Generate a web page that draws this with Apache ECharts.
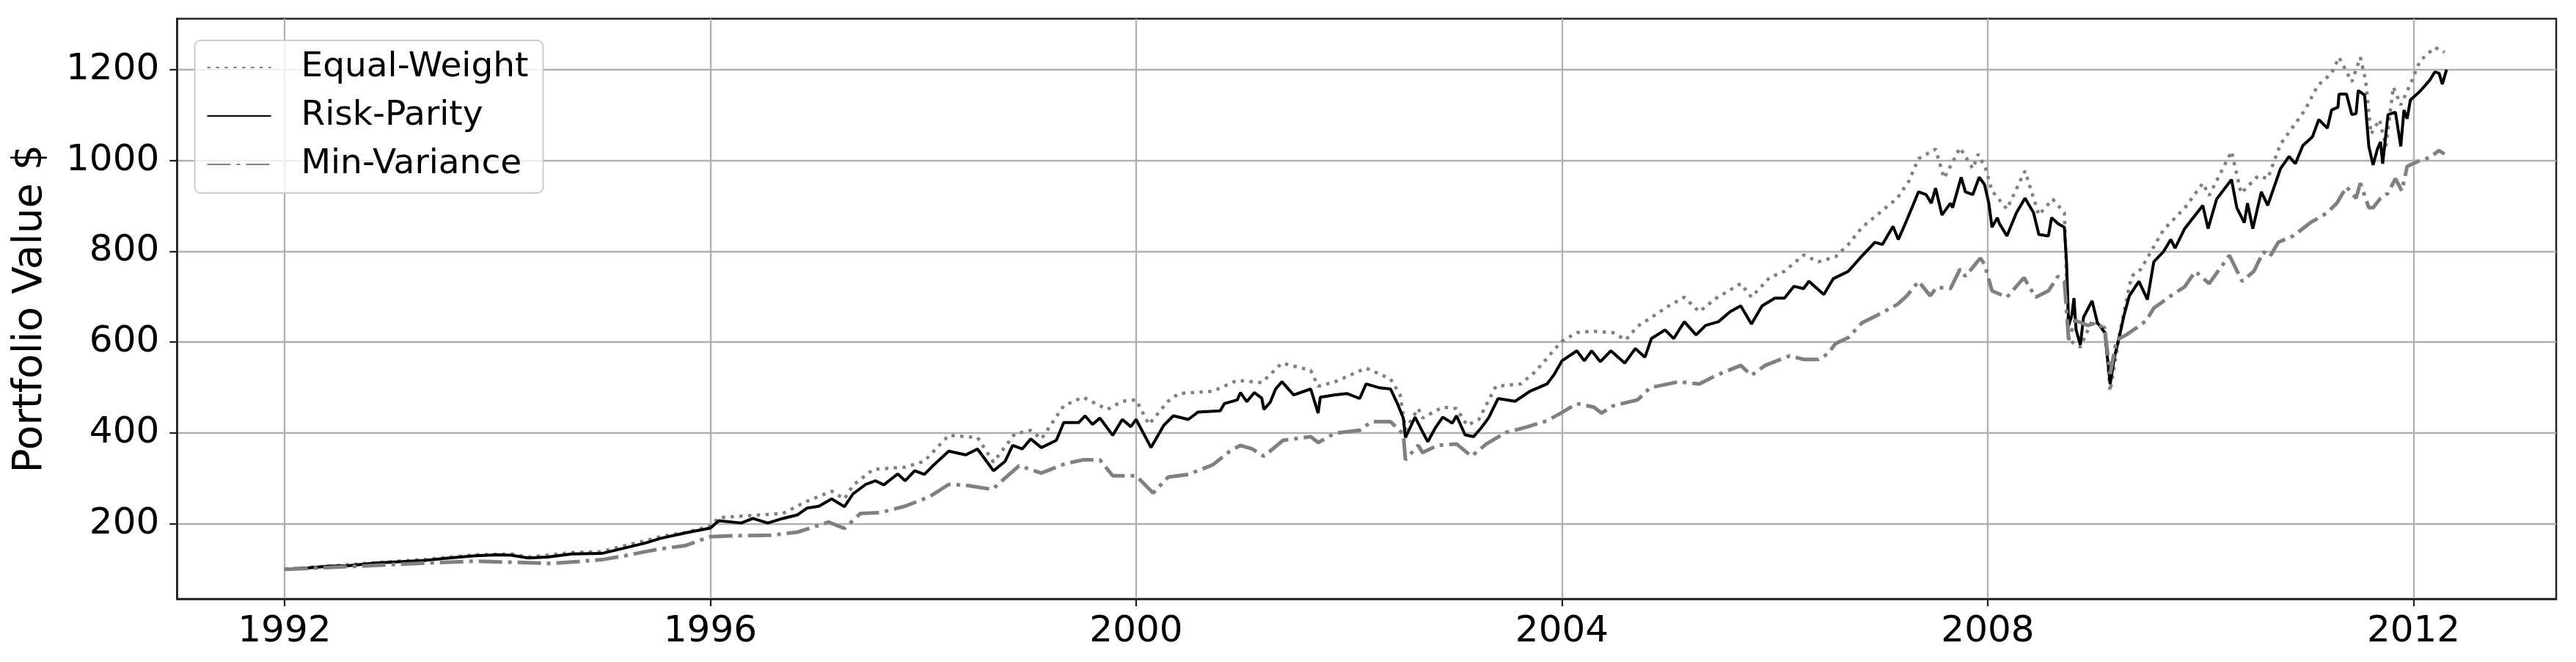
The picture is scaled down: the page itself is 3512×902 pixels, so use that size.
<!DOCTYPE html>
<html>
<head>
<meta charset="utf-8">
<script src="https://cdn.jsdelivr.net/npm/echarts@6/dist/echarts.min.js"></script>
<style>
  html, body { margin: 0; padding: 0; background: #ffffff; }
  #chart { width: 3512px; height: 902px; }
</style>
</head>
<body>
<div id="chart"></div>
<script>
// ---- data ----
const seriesNames = ['Equal-Weight', 'Risk-Parity', 'Min-Variance'];
const xTickValues = [1992, 1996, 2000, 2004, 2008, 2012];
const yTickValues = [200, 400, 600, 800, 1000, 1200];

const ewYears = [1992.00,1992.41,1992.87,1993.33,1993.79,1994.13,1994.29,1994.70,1994.98,1995.16,1995.39,1995.53,1995.76,1996.00,1996.08,1996.68,1996.91,1997.14,1997.26,1997.34,1997.53,1997.83,1998.01,1998.24,1998.51,1998.66,1998.86,1999.01,1999.11,1999.32,1999.50,1999.73,1999.87,2000.00,2000.12,2000.30,2000.40,2000.72,2000.95,2001.18,2001.37,2001.64,2001.71,2001.87,2002.16,2002.39,2002.48,2002.53,2002.65,2002.69,2002.88,2003.01,2003.11,2003.22,2003.38,2003.61,2003.75,2003.93,2004.00,2004.14,2004.28,2004.48,2004.60,2004.71,2004.83,2004.99,2005.15,2005.29,2005.45,2005.68,2005.78,2005.95,2006.09,2006.27,2006.41,2006.57,2006.69,2006.82,2006.96,2007.15,2007.26,2007.35,2007.51,2007.59,2007.74,2007.86,2007.91,2007.98,2008.04,2008.18,2008.35,2008.48,2008.61,2008.72,2008.76,2008.87,2008.98,2009.10,2009.15,2009.24,2009.35,2009.44,2009.53,2009.65,2009.76,2009.85,2010.02,2010.08,2010.29,2010.38,2010.54,2010.63,2010.75,2010.84,2010.98,2011.10,2011.23,2011.30,2011.42,2011.50,2011.55,2011.60,2011.68,2011.74,2011.81,2011.88,2011.97,2012.06,2012.20,2012.29];
const ewValues = [100,107,115,122,132,134,127,137,139,150,163,172,181,195,214,223,250,272,255,285,320,325,338,395,390,336,398,406,387,460,479,452,470,473,419,470,487,492,516,511,554,538,503,513,543,519,484,408,454,433,457,454,417,430,503,508,535,584,602,621,624,621,605,635,653,678,699,667,697,729,699,742,756,792,777,788,815,853,880,917,955,1004,1025,961,1028,982,1014,982,933,893,977,880,915,885,605,589,648,632,492,621,745,761,798,847,874,895,950,923,1020,928,966,960,1036,1065,1111,1165,1192,1227,1173,1227,1176,1058,1090,1031,1162,1122,1168,1219,1249,1238];

const rpYears = [1992.00,1992.20,1992.41,1992.60,1992.87,1993.10,1993.33,1993.55,1993.79,1994.00,1994.13,1994.29,1994.47,1994.70,1994.98,1995.16,1995.39,1995.53,1995.76,1996.00,1996.08,1996.29,1996.40,1996.54,1996.68,1996.82,1996.91,1997.02,1997.14,1997.26,1997.34,1997.46,1997.55,1997.63,1997.76,1997.83,1997.92,1998.01,1998.10,1998.24,1998.40,1998.51,1998.66,1998.77,1998.84,1998.93,1999.01,1999.11,1999.25,1999.32,1999.46,1999.52,1999.59,1999.66,1999.78,1999.87,1999.95,2000.00,2000.14,2000.26,2000.35,2000.49,2000.58,2000.79,2000.83,2000.95,2000.98,2001.04,2001.11,2001.18,2001.20,2001.26,2001.31,2001.37,2001.48,2001.64,2001.71,2001.73,2001.87,2001.98,2002.10,2002.16,2002.28,2002.39,2002.46,2002.51,2002.53,2002.62,2002.69,2002.74,2002.81,2002.88,2002.97,2003.01,2003.09,2003.17,2003.24,2003.31,2003.40,2003.56,2003.70,2003.86,2003.93,2004.00,2004.14,2004.21,2004.28,2004.36,2004.46,2004.59,2004.69,2004.78,2004.84,2004.97,2005.05,2005.15,2005.26,2005.35,2005.47,2005.58,2005.68,2005.78,2005.88,2006.00,2006.09,2006.18,2006.27,2006.32,2006.46,2006.55,2006.69,2006.80,2006.94,2007.01,2007.11,2007.16,2007.24,2007.35,2007.42,2007.47,2007.51,2007.57,2007.65,2007.67,2007.75,2007.79,2007.86,2007.92,2007.97,2008.01,2008.04,2008.09,2008.11,2008.18,2008.27,2008.35,2008.43,2008.48,2008.57,2008.60,2008.66,2008.72,2008.74,2008.76,2008.79,2008.81,2008.83,2008.87,2008.90,2008.98,2009.03,2009.10,2009.15,2009.19,2009.24,2009.28,2009.33,2009.42,2009.50,2009.56,2009.65,2009.72,2009.76,2009.85,2009.95,2010.02,2010.07,2010.15,2010.29,2010.34,2010.41,2010.44,2010.49,2010.57,2010.63,2010.75,2010.83,2010.89,2010.96,2011.05,2011.11,2011.19,2011.23,2011.29,2011.30,2011.37,2011.42,2011.46,2011.48,2011.54,2011.58,2011.62,2011.66,2011.69,2011.71,2011.76,2011.83,2011.88,2011.91,2011.94,2011.97,2012.06,2012.15,2012.20,2012.24,2012.27,2012.31];
const rpValues = [100,103,107,108,114,117,120,125,130,132,131,125,127,134,135,145,158,168,180,191,207,202,212,202,212,220,235,239,255,238,266,287,295,286,310,295,317,309,330,360,352,365,317,338,373,365,387,368,384,423,423,438,419,433,395,430,414,430,368,417,438,430,446,449,465,473,489,469,489,477,452,468,497,513,484,497,444,479,484,487,476,508,500,497,462,433,390,435,403,381,411,435,422,438,396,392,411,433,476,470,492,508,530,559,581,559,581,557,581,554,586,567,608,627,608,645,616,637,645,667,680,640,680,697,697,723,718,734,705,740,756,785,820,815,855,826,869,931,925,906,939,880,906,896,963,931,925,963,947,906,853,874,861,834,885,917,885,837,834,874,861,853,777,637,659,697,627,594,655,691,643,621,508,567,616,659,702,734,694,777,799,826,807,850,880,901,850,915,958,896,863,906,850,931,901,982,1009,993,1033,1052,1090,1071,1111,1117,1146,1146,1101,1103,1154,1144,1031,990,1025,1041,993,1101,1106,1031,1111,1092,1133,1152,1176,1195,1192,1168,1200];

const mvYears = [1992.00,1992.41,1992.87,1993.33,1993.79,1994.24,1994.50,1994.75,1995.00,1995.20,1995.39,1995.53,1995.76,1996.00,1996.22,1996.56,1996.82,1997.11,1997.26,1997.41,1997.60,1997.83,1998.06,1998.24,1998.40,1998.65,1998.74,1998.90,1999.11,1999.34,1999.50,1999.66,1999.78,2000.00,2000.16,2000.30,2000.49,2000.72,2000.88,2000.98,2001.09,2001.20,2001.38,2001.64,2001.71,2001.87,2002.10,2002.21,2002.39,2002.51,2002.53,2002.65,2002.69,2002.83,2003.01,2003.15,2003.29,2003.47,2003.68,2003.86,2003.99,2004.14,2004.30,2004.37,2004.48,2004.71,2004.83,2005.10,2005.29,2005.45,2005.68,2005.78,2005.91,2006.14,2006.27,2006.41,2006.50,2006.57,2006.69,2006.82,2006.96,2007.15,2007.24,2007.35,2007.46,2007.52,2007.65,2007.74,2007.79,2007.93,2007.97,2008.04,2008.18,2008.34,2008.45,2008.57,2008.66,2008.72,2008.76,2008.82,2008.94,2009.03,2009.10,2009.15,2009.21,2009.30,2009.40,2009.49,2009.56,2009.72,2009.85,2009.95,2010.08,2010.27,2010.39,2010.50,2010.59,2010.65,2010.73,2010.87,2011.03,2011.19,2011.28,2011.37,2011.46,2011.50,2011.58,2011.62,2011.69,2011.76,2011.83,2011.89,2011.94,2012.04,2012.15,2012.24,2012.29];
const mvValues = [100,104,109,114,118,115,113,117,122,130,139,145,152,172,174,175,182,204,190,223,225,239,260,287,285,276,295,328,312,333,341,341,306,306,268,303,309,330,360,373,365,349,384,392,379,400,406,425,425,398,341,373,357,373,376,349,376,401,414,427,444,465,457,444,460,473,500,513,508,527,549,527,549,570,562,562,575,597,610,643,659,683,702,734,702,721,718,761,745,785,772,713,699,742,699,713,745,734,605,648,637,643,627,530,605,616,632,648,675,702,722,756,729,791,734,756,799,788,820,834,863,885,906,942,917,950,896,896,917,928,960,933,987,998,1006,1022,1014];

const zip = (xs, ys) => xs.map((x, i) => [x, ys[i]]);

const FONT = "'DejaVu Sans', 'Liberation Sans', sans-serif";
const chart = echarts.init(document.getElementById('chart'), null, { renderer: 'canvas' });

chart.setOption({
  animation: false,
  backgroundColor: '#ffffff',
  textStyle: { fontFamily: FONT, color: '#000' },
  grid: {
    left: 241.3, right: 27, top: 25.5, bottom: 86,
    containLabel: false,
    outerBoundsMode: 'none',
    show: true,
    borderColor: '#222222',
    borderWidth: 2.5,
    backgroundColor: 'transparent'
  },
  legend: {
    orient: 'vertical',
    left: 265.5, top: 55,
    padding: [12, 20, 14, 16],
    itemWidth: 87, itemHeight: 20, itemGap: 16,
    backgroundColor: 'rgba(255,255,255,0.8)',
    borderColor: '#cccccc', borderWidth: 2, borderRadius: 8,
    itemStyle: { opacity: 0 },
    textStyle: { fontFamily: FONT, fontSize: 47, lineHeight: 50, color: '#000', padding: [0, 0, 0, 36] },
    data: seriesNames
  },
  xAxis: {
    type: 'value',
    min: 1990.99, max: 2013.34,
    axisLine: { show: true, onZero: false, lineStyle: { color: '#222222', width: 2.5 } },
    axisTick: { show: true, inside: false, length: 10, customValues: xTickValues, lineStyle: { color: '#222222', width: 2.3 } },
    axisLabel: { show: true, margin: 20, fontSize: 50, fontFamily: FONT, color: '#000', customValues: xTickValues, formatter: v => String(v) },
    splitLine: { show: true, lineStyle: { color: '#b0b0b0', width: 2.3 } }
  },
  yAxis: {
    type: 'value',
    min: 35, max: 1312,
    name: 'Portfolio Value $',
    nameLocation: 'middle',
    nameRotate: 90,
    nameGap: 172,
    nameTextStyle: { fontFamily: FONT, fontSize: 55, color: '#000' },
    axisLine: { show: true, onZero: false, lineStyle: { color: '#222222', width: 2.5 } },
    axisTick: { show: true, inside: false, length: 10, customValues: yTickValues, lineStyle: { color: '#222222', width: 2.3 } },
    axisLabel: { show: true, margin: 24, fontSize: 50, fontFamily: FONT, color: '#000', customValues: yTickValues, formatter: v => String(v) },
    splitLine: { show: true, lineStyle: { color: '#b0b0b0', width: 2.3 } }
  },
  series: [
    {
      name: seriesNames[0], type: 'line', data: zip(ewYears, ewValues),
      symbol: 'none', smooth: false,
      lineStyle: { color: '#808080', width: 4.5, type: [4.5, 7.4], cap: 'butt' },
      itemStyle: { color: '#808080' }
    },
    {
      name: seriesNames[1], type: 'line', data: zip(rpYears, rpValues),
      symbol: 'none', smooth: false,
      lineStyle: { color: '#000000', width: 4 },
      itemStyle: { color: '#000000' }
    },
    {
      name: seriesNames[2], type: 'line', data: zip(mvYears, mvValues),
      symbol: 'none', smooth: false,
      lineStyle: { color: '#808080', width: 5, type: [32, 8, 5, 8], cap: 'butt' },
      itemStyle: { color: '#808080' }
    }
  ]
});
</script>
</body>
</html>
